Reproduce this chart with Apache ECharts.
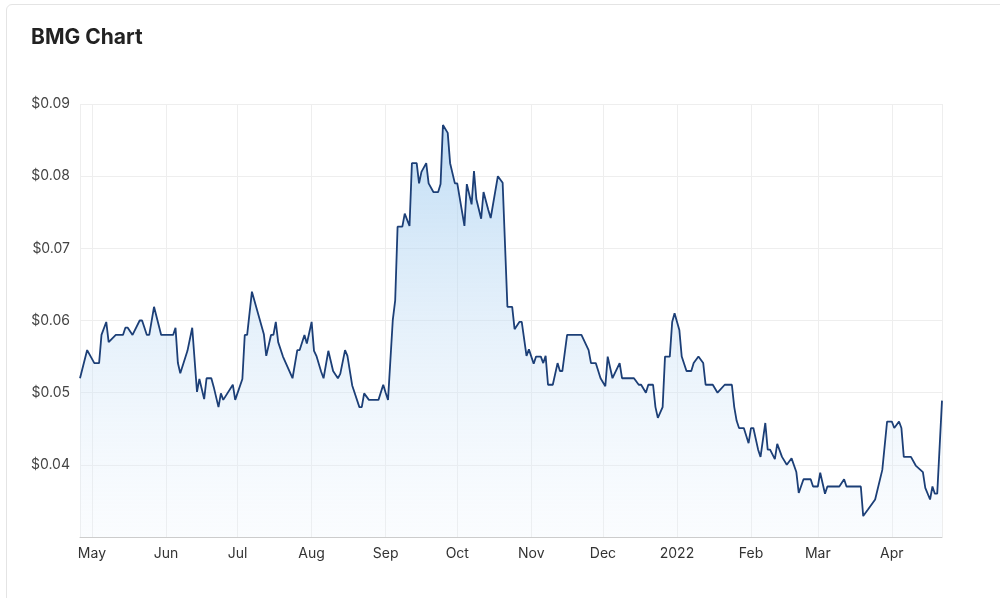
<!DOCTYPE html>
<html><head><meta charset="utf-8">
<script src="https://cdn.jsdelivr.net/npm/echarts@6/dist/echarts.min.js"></script>
<style>html,body{margin:0;padding:0;background:#fff;}#c{width:1000px;height:598px;}
.card{position:absolute;left:6px;top:4px;width:1000px;height:600px;border:1px solid #e4e4e4;border-radius:6px;box-sizing:border-box;}</style>
</head><body><div class="card"></div><div id="c"></div>
<script>
const startDate = '2021-04-26';
const endDay = 361;
const dayOffsets = [0,3,6,8,9,11,12,15,18,19,20,22,25,26,28,29,31,34,39,40,41,42,45,47,49,50,52,53,55,56,58,59,60,64,65,68,69,70,72,77,78,80,81,82,83,85,89,91,92,94,95,97,98,99,101,102,104,106,108,109,111,112,114,117,118,119,121,125,127,128,129,
131,132,133,135,136,138,139,141,142,143,145,146,148,150,151,152,154,155,157,158,161,162,164,165,166,168,169,171,172,175,177,179,181,182,184,185,187,188,190,191,193,194,195,196,198,200,201,202,204,210,213,214,216,218,220,221,223,226,227,232,234,235,237,238,240,241,242,244,245,247,248,249,251,252,254,256,257,259,261,262,265,267,270,273,274,275,276,278,280,281,282,284,285,287,288,289,291,292,294,296,298,300,301,303,306,307,309,310,312,313,318,320,321,327,328,330,333,336,338,340,341,343,344,345,348,350,353,354,356,357,358,359,361];
const prices = [0.052,0.0559,0.0541,0.0541,0.058,0.0598,0.057,0.058,0.058,0.059,0.059,0.058,0.060,0.060,0.058,0.058,0.0619,0.058,0.058,0.059,0.0541,0.0527,0.0558,0.059,0.0501,0.0519,0.0491,0.052,0.052,0.0508,0.048,0.0499,0.049,0.0511,0.049,0.0519,0.058,0.058,0.064,0.0581,0.0551,0.058,0.058,0.0598,0.057,0.055,0.052,0.0559,0.0559,0.058,0.0568,0.0598,0.0558,0.0551,0.0529,0.052,0.0558,0.053,0.052,0.0526,0.0559,0.0551,0.051,0.048,0.048,0.0499,0.049,0.049,0.0511,0.050,0.049,
0.0601,0.0628,0.073,0.073,0.0748,0.0731,0.0818,0.0818,0.079,0.0806,0.0818,0.079,0.0778,0.0778,0.0789,0.0871,0.086,0.0818,0.079,0.079,0.0731,0.0789,0.0761,0.0807,0.0768,0.0741,0.0778,0.0753,0.0742,0.080,0.0791,0.0619,0.0619,0.0588,0.0598,0.0598,0.0551,0.056,0.054,0.055,0.055,0.0541,0.0551,0.0511,0.0511,0.0541,0.053,0.053,0.058,0.058,0.0559,0.0541,0.0541,0.052,0.0509,0.055,0.052,0.0541,0.052,0.052,0.0511,0.0511,0.050,0.0511,0.0511,0.048,0.0465,0.048,0.055,0.055,0.0598,0.061,0.0587,0.055,0.053,0.053,0.0541,0.055,0.0541,0.0511,0.0511,0.050,0.0511,0.0511,0.048,0.0461,0.0451,0.0451,0.043,0.0451,0.0451,0.0421,0.0411,0.0458,0.0421,0.0421,0.0408,0.0429,0.0411,0.040,0.0409,0.039,0.0361,0.038,0.038,0.037,0.037,0.0389,0.036,0.037,0.037,0.038,0.037,0.037,0.0329,0.0338,0.0352,0.0393,0.046,0.046,0.0451,0.046,0.0451,0.0411,0.0411,0.0399,0.039,0.0368,0.0352,0.037,0.036,0.036,0.0489];
const yTicks = [0.03,0.04,0.05,0.06,0.07,0.08,0.09];
const monthNames = ['Jan','Feb','Mar','Apr','May','Jun','Jul','Aug','Sep','Oct','Nov','Dec'];

const DAY = 864e5;
const t0 = new Date(startDate + 'T00:00:00').getTime();
const data = dayOffsets.map((d,i)=>[t0 + d*DAY, prices[i]]);
const chart = echarts.init(document.getElementById('c'));
chart.setOption({
  animation:false,
  title:{text:'BMG Chart',left:26,top:22,textStyle:{fontFamily:'Inter, Roboto, sans-serif',fontSize:21,fontWeight:'bold',color:'#222'}},
  grid:{left:80,right:58,top:104,bottom:61},
  xAxis:{type:'time',min:t0,max:t0+endDay*DAY,minInterval:28*DAY,maxInterval:31*DAY,
    axisLine:{lineStyle:{color:'#ccc'}},axisTick:{show:false},
    splitLine:{show:true,lineStyle:{color:'#eee'}},
    axisLabel:{color:'#333',fontSize:14,fontFamily:'Inter, Roboto, sans-serif',margin:10,
      formatter:v=>{const d=new Date(v);return d.getMonth()===0?String(d.getFullYear()):monthNames[d.getMonth()];}}},
  yAxis:{type:'value',min:yTicks[0],max:yTicks[yTicks.length-1],interval:0.01,
    axisLine:{show:false},axisTick:{show:false},
    splitLine:{lineStyle:{color:'#eee'}},
    axisLabel:{color:'#444',fontSize:14,fontFamily:'Inter, Roboto, sans-serif',margin:10,
      formatter:v=>Math.abs(v-yTicks[0])<1e-9?'':'$'+v.toFixed(2)}},
  series:[{type:'line',data:data,showSymbol:false,symbol:'none',
    lineStyle:{color:'#1c3f77',width:1.8},
    areaStyle:{color:new echarts.graphic.LinearGradient(0,0,0,1,[{offset:0,color:'rgba(150,198,238,0.85)'},{offset:0.5,color:'rgba(196,222,245,0.6)'},{offset:1,color:'rgba(232,242,252,0.3)'}])}}]
});
</script></body></html>
